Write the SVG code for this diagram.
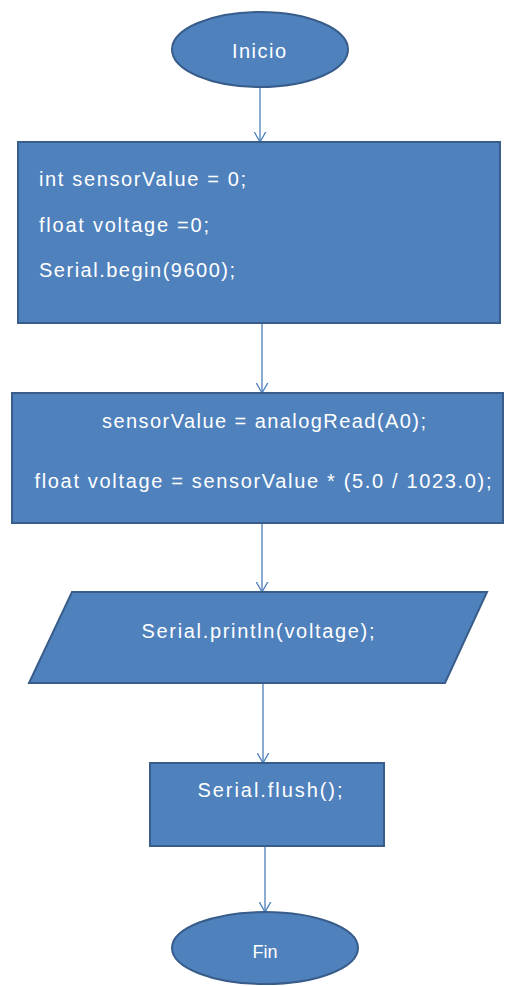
<svg xmlns="http://www.w3.org/2000/svg" width="507" height="986" viewBox="0 0 507 986">
<style>
.n{fill:#4F81BD;stroke:#385D8A;stroke-width:2}
.t{fill:#ffffff;font-family:"Liberation Sans","Open Sans",sans-serif;font-size:20px}
.c{stroke:#4A7EBB;stroke-width:1.3;fill:none}
</style>
<defs>
<marker id="a" markerWidth="20" markerHeight="20" refX="10" refY="14" orient="auto" markerUnits="userSpaceOnUse" viewBox="0 0 20 20">
<path d="M2,0 L10,14 L18,0" fill="none" stroke="#4A7EBB" stroke-width="1.3" transform="rotate(-90 10 14)"/>
</marker>
</defs>
<rect width="507" height="986" fill="#ffffff"/>
<g id="connectors">
<line class="c" x1="260" y1="87" x2="260" y2="142" marker-end="url(#a)"/>
<line class="c" x1="262" y1="323" x2="262" y2="393" marker-end="url(#a)"/>
<line class="c" x1="262" y1="523" x2="262" y2="592" marker-end="url(#a)"/>
<line class="c" x1="263" y1="683" x2="263" y2="763" marker-end="url(#a)"/>
<line class="c" x1="265" y1="846" x2="265" y2="912" marker-end="url(#a)"/>
</g>
<g id="inicio">
<ellipse class="n" cx="260" cy="49.5" rx="88" ry="37.5"/>
<text class="t" x="259" y="58" text-anchor="middle" textLength="54">Inicio</text>
</g>
<g id="init">
<rect class="n" x="18" y="142" width="482" height="181"/>
<text class="t" x="39" y="186" textLength="207">int sensorValue = 0;</text>
<text class="t" x="39" y="232" textLength="170">float voltage =0;</text>
<text class="t" x="39" y="277" textLength="196">Serial.begin(9600);</text>
</g>
<g id="read">
<rect class="n" x="12" y="393" width="491" height="130"/>
<text class="t" x="264" y="428" text-anchor="middle" textLength="324">sensorValue = analogRead(A0);</text>
<text class="t" x="263" y="488" text-anchor="middle" textLength="457">float voltage = sensorValue * (5.0 / 1023.0);</text>
</g>
<g id="print">
<polygon class="n" points="72,592 487,592 445,683 29,683"/>
<text class="t" x="258" y="638" text-anchor="middle" textLength="233">Serial.println(voltage);</text>
</g>
<g id="flush">
<rect class="n" x="150" y="763" width="234" height="83"/>
<text class="t" x="270" y="797" text-anchor="middle" textLength="145">Serial.flush();</text>
</g>
<g id="fin">
<ellipse class="n" cx="265" cy="948" rx="93" ry="36"/>
<text class="t" x="265" y="958" text-anchor="middle" style="font-size:18px">Fin</text>
</g>
</svg>
